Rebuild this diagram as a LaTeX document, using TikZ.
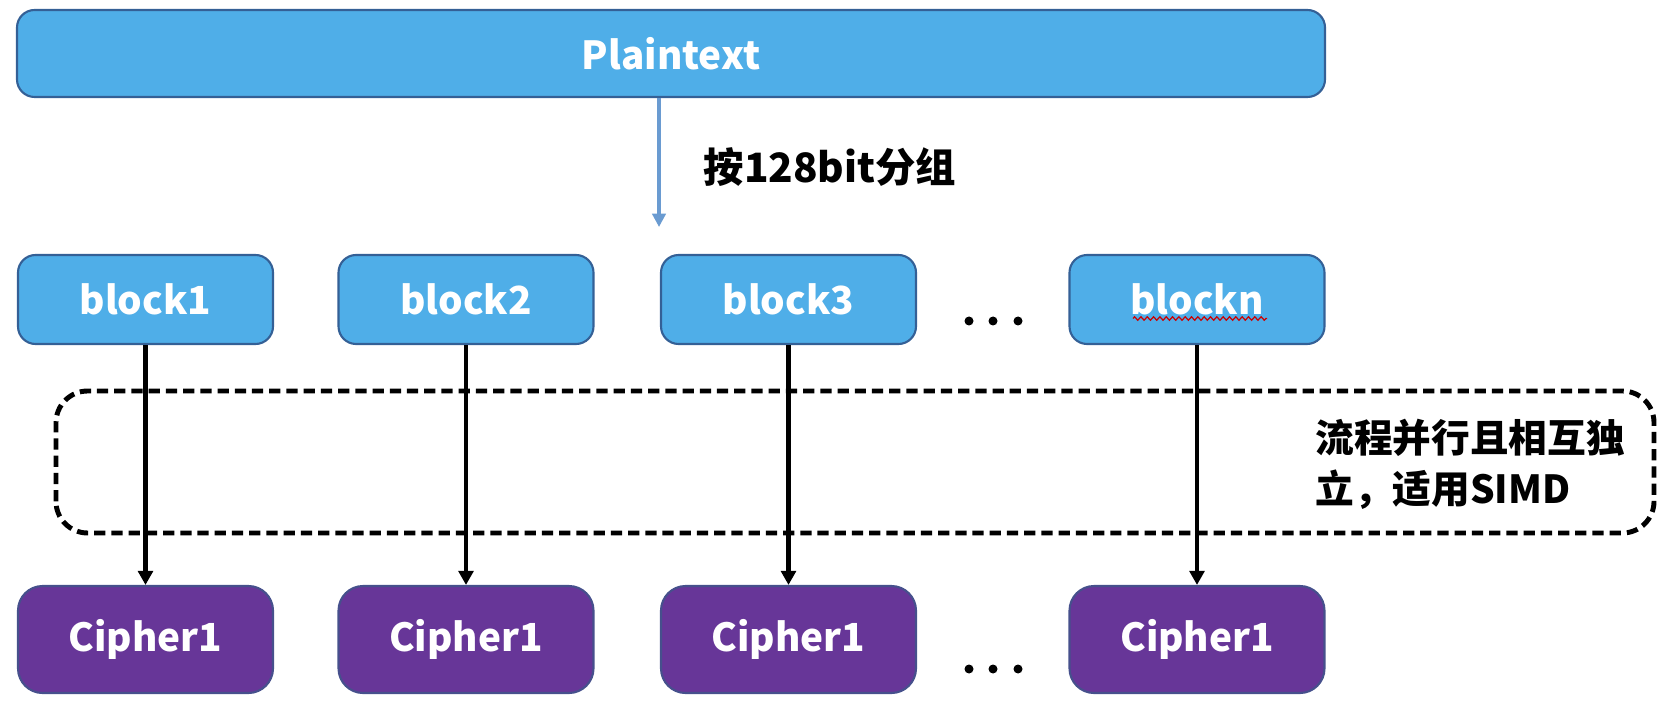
\documentclass[tikz,border=0pt]{standalone}
\usepackage{fontspec}
\setmainfont{Noto Sans CJK SC}
\usetikzlibrary{calc,positioning,arrows.meta,decorations.pathmorphing}

\definecolor{cBlockBlue}{RGB}{79,174,232}
\definecolor{cEdgeBlue}{RGB}{52,96,150}
\definecolor{cCipherPurple}{RGB}{103,54,152}
\definecolor{cEdgePurple}{RGB}{70,80,140}
\definecolor{cSplitBlue}{RGB}{106,155,209}

\begin{document}
\begin{tikzpicture}[
    blockBox/.style={draw=cEdgeBlue, fill=cBlockBlue, line width=0.6pt, rounded corners=5pt,
        minimum width=2.55cm, minimum height=0.89cm, text=white,
        font=\bfseries\fontsize{11}{13}\selectfont},
    cipherBox/.style={blockBox, draw=cEdgePurple, fill=cCipherPurple,
        minimum height=1.07cm, rounded corners=7pt},
    flowArrow/.style={line width=1.3pt, -{Triangle[length=4pt,width=4.2pt]}},
    noteText/.style={font=\bfseries\fontsize{11}{14.5}\selectfont, align=left}
]
\useasboundingbox (0,0) rectangle (16.66,7.04);

% plaintext on top
\node[blockBox, minimum width=13.08cm, minimum height=0.87cm] (plain) at (6.71,6.505) {Plaintext};

\coordinate (split) at (6.59,4.77);
\draw[cSplitBlue, line width=0.9pt, -{Triangle[length=3.8pt,width=3.8pt]}] (plain.south -| split) -- (split);
\node[font=\bfseries\fontsize{11.5}{13}\selectfont] (splitLabel) at (8.30,5.37) {按128bit分组};

% parallel zone
\draw[line width=1.4pt, dash pattern=on 3.2pt off 1.7pt, rounded corners=9pt]
    (0.56,1.71) rectangle (16.54,3.13);
\node[noteText, anchor=west] (simdNote) at (13.03,2.40) {流程并行且相互独\\立，适用SIMD};

% blocks and ciphers
\foreach \name/\xc/\txt in {b1/1.455/block1, b2/4.66/block2, b3/7.885/block3, bn/11.97/blockn}
{
    \node[blockBox] (\name) at (\xc,4.045) {\txt};
    \node[cipherBox] (c\name) at (\xc,0.645) {Cipher1};
    \draw[flowArrow] (\name.south) -- (c\name.north);
}

% spell check squiggle under blockn
\draw[red!80!black, line width=0.35pt, decorate, decoration={zigzag, amplitude=0.5pt, segment length=1.8pt}]
    ($(bn.center)+(-0.64,-0.19)$) -- ++(1.34,0);

% the dots
\foreach \y in {3.83,0.35}
{
    \foreach \x in {9.69,9.93,10.18}
        \fill (\x,\y) circle (0.045);
}
\end{tikzpicture}
\end{document}
